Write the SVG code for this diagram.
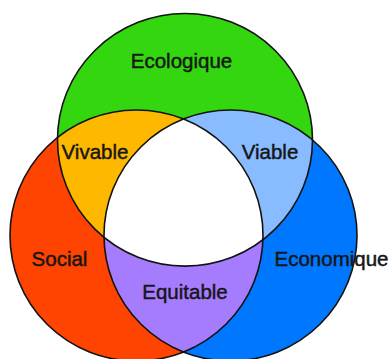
<svg xmlns="http://www.w3.org/2000/svg" width="390" height="359" viewBox="0 0 390 359">
<style>
.lbl{font-family:"Liberation Sans",Arial,Helvetica,sans-serif;font-size:20.5px;fill:#161616;stroke:#161616;stroke-width:0.45;text-anchor:middle}
.outline{fill:none;stroke:#121212;stroke-width:1.6}
</style>
<defs>
<ellipse id="eG" cx="185" cy="139.8" rx="127.5" ry="126.3"/>
<ellipse id="eR" cx="136.5" cy="235.5" rx="126.5" ry="125.5"/>
<ellipse id="eB" cx="230.5" cy="235.5" rx="126.5" ry="125.5"/>
<clipPath id="cG"><ellipse cx="185" cy="139.8" rx="127.5" ry="126.3"/></clipPath>
<clipPath id="cR"><ellipse cx="136.5" cy="235.5" rx="126.5" ry="125.5"/></clipPath>
<clipPath id="cB"><ellipse cx="230.5" cy="235.5" rx="126.5" ry="125.5"/></clipPath>
</defs>
<rect width="390" height="359" fill="#ffffff"/>
<g id="social">
<use href="#eR" fill="#ff4300"/>
<text class="lbl" x="59.5" y="266">Social</text>
</g>
<g id="economique">
<use href="#eB" fill="#0077ff"/>
<text class="lbl" x="331.5" y="266">Economique</text>
</g>
<g id="ecologique">
<use href="#eG" fill="#33d60f"/>
<text class="lbl" x="181.5" y="68">Ecologique</text>
</g>
<g id="vivable">
<g clip-path="url(#cR)"><use href="#eG" fill="#ffb800"/></g>
<text class="lbl" x="95" y="159">Vivable</text>
</g>
<g id="viable">
<g clip-path="url(#cB)"><use href="#eG" fill="#88bbff"/></g>
<text class="lbl" x="270" y="159">Viable</text>
</g>
<g id="equitable">
<g clip-path="url(#cR)"><use href="#eB" fill="#a67cff"/></g>
<text class="lbl" x="185" y="299">Equitable</text>
</g>
<g id="durable">
<g clip-path="url(#cR)"><g clip-path="url(#cB)"><use href="#eG" fill="#ffffff"/></g></g>
</g>
<g id="connectors" class="outline">
<use href="#eR"/>
<use href="#eB"/>
<use href="#eG"/>
</g>
</svg>
